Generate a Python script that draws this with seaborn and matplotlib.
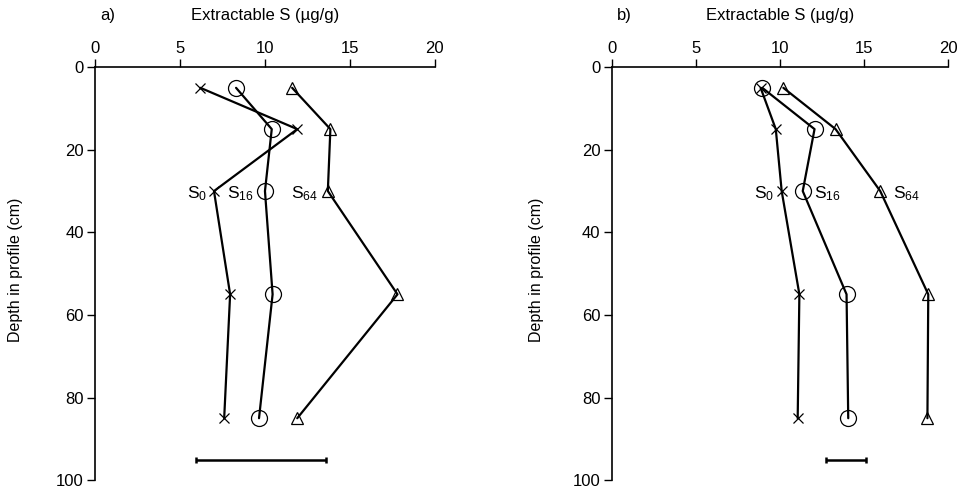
import matplotlib
matplotlib.use("Agg")
import matplotlib.pyplot as plt
import seaborn as sns
import pandas as pd

sns.set_theme(style="white")
plt.rcParams["font.family"] = ["Liberation Sans", "DejaVu Sans"]
plt.rcParams["text.color"] = "black"
plt.rcParams["axes.labelcolor"] = "black"

depth = [5, 15, 30, 55, 85]

# Panel a) extractable S by depth
a_s0 = [6.2, 11.9, 7.0, 7.95, 7.6]
a_s16 = [8.3, 10.4, 10.0, 10.45, 9.65]
a_s64 = [11.6, 13.85, 13.7, 17.8, 11.9]
a_lsd = (5.95, 13.6)

# Panel b) extractable S by depth
b_s0 = [8.85, 9.75, 10.1, 11.15, 11.05]
b_s16 = [8.95, 12.05, 11.35, 13.95, 14.05]
b_s64 = [10.2, 13.3, 15.95, 18.8, 18.75]
b_lsd = (12.75, 15.1)

lsd_depth = 95
ticks_x = [0, 5, 10, 15, 20]
ticks_y = [0, 20, 40, 60, 80, 100]

fig = plt.figure(figsize=(9.6, 4.94), dpi=100)
ax_a = fig.add_axes([0.099, 0.028, 0.354, 0.836])
ax_b = fig.add_axes([0.637, 0.028, 0.351, 0.836])

label_pos = {
    "a": {"S0": ("right", -0.4), "S16": ("right", -0.65), "S64": ("right", -0.6)},
    "b": {"S0": ("right", -0.45), "S16": ("left", 0.65), "S64": ("left", 0.75)},
}


def draw(ax, s0, s16, s64, lsd, tag, ylab_x):
    series = [("S0", s0, "x", 7, r"$\mathregular{S_{0}}$"),
              ("S16", s16, "o", 11.5, r"$\mathregular{S_{16}}$"),
              ("S64", s64, "^", 8, r"$\mathregular{S_{64}}$")]
    for key, vals, mk, ms, lab in series:
        df = pd.DataFrame({"S": vals, "depth": depth})
        sns.lineplot(data=df, x="S", y="depth", sort=False, estimator=None,
                     ax=ax, color="black", lw=1.6, marker=mk, markersize=ms,
                     markerfacecolor="none", markeredgecolor="black",
                     markeredgewidth=0.9)
        ha, dx = label_pos[tag][key]
        ax.text(vals[2] + dx, depth[2] + 0.6, lab, ha=ha, va="center",
                fontsize=12.5, color="black")
    lo, hi = lsd
    ax.errorbar((lo + hi) / 2, lsd_depth, xerr=(hi - lo) / 2, color="black",
                lw=1.8, capsize=2.5, capthick=1.8)

    ax.set_xlim(0, 20)
    ax.set_ylim(100, 0)
    ax.set_xticks(ticks_x)
    ax.set_yticks(ticks_y)
    ax.xaxis.tick_top()
    ax.xaxis.set_label_position("top")
    ax.tick_params(axis="both", direction="out", length=6, width=1.0,
                   labelsize=12, colors="black", pad=2)
    ax.tick_params(axis="x", top=True, bottom=False)
    ax.tick_params(axis="y", left=True, right=False)
    for side in ("right", "bottom"):
        ax.spines[side].set_visible(False)
    for side in ("left", "top"):
        ax.spines[side].set_color("black")
        ax.spines[side].set_linewidth(1.2)
    ax.set_xlabel("Extractable S (µg/g)", fontsize=12, color="black")
    ax.xaxis.set_label_coords(0.5, 1.126)
    ax.xaxis.label.set_va("center")
    ax.set_ylabel("Depth in profile (cm)", fontsize=11.5, color="black")
    ax.yaxis.set_label_coords(ylab_x, 0.51)
    ax.text(0.015, 1.126, tag + ")", transform=ax.transAxes, fontsize=12,
            ha="left", va="center", color="black")


draw(ax_a, a_s0, a_s16, a_s64, a_lsd, "a", -0.212)
draw(ax_b, b_s0, b_s16, b_s64, b_lsd, "b", -0.199)

fig.savefig("out.png", dpi=100)
